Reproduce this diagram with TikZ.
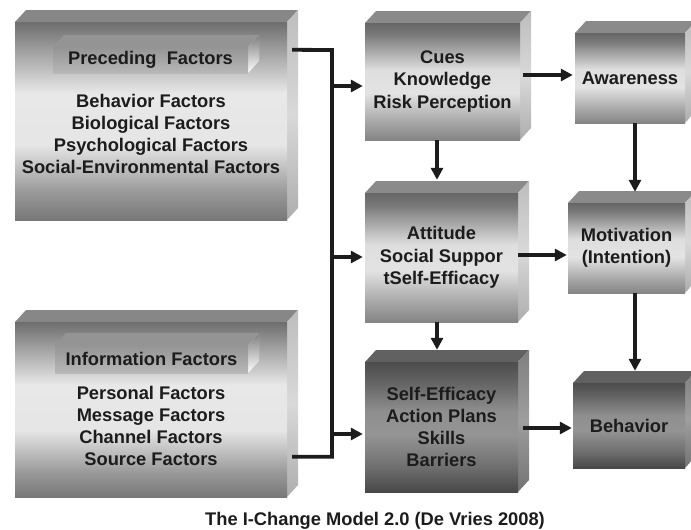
\documentclass[tikz,border=0pt]{standalone}
\usepackage{fontspec}
\setmainfont{Liberation Sans}
\usetikzlibrary{arrows.meta,calc}

\definecolor{ink}{HTML}{1C1C1C}

% front faces: stops run bottom (25bp) to top (75bp)
\pgfdeclareverticalshading{lightface}{100bp}{%
  color(0bp)=(black!48); color(25bp)=(black!48); color(33bp)=(black!34);
  color(45bp)=(black!11); color(55bp)=(black!13); color(70bp)=(black!52);
  color(75bp)=(black!60); color(100bp)=(black!60)}
\pgfdeclareverticalshading{bigface}{100bp}{%
  color(0bp)=(black!53); color(25bp)=(black!53); color(32bp)=(black!40);
  color(44bp)=(black!10); color(57bp)=(black!9); color(68bp)=(black!38);
  color(75bp)=(black!57); color(100bp)=(black!57)}
\pgfdeclareverticalshading{darkface}{100bp}{%
  color(0bp)=(black!72); color(25bp)=(black!72); color(35bp)=(black!56);
  color(47bp)=(black!42); color(56bp)=(black!44); color(68bp)=(black!62);
  color(75bp)=(black!70); color(100bp)=(black!70)}
\pgfdeclareverticalshading{tagface}{100bp}{%
  color(0bp)=(black!28); color(25bp)=(black!28); color(75bp)=(black!42);
  color(100bp)=(black!42)}
% side faces
\pgfdeclareverticalshading{lightside}{100bp}{%
  color(0bp)=(black!32); color(25bp)=(black!32); color(50bp)=(black!15);
  color(75bp)=(black!26); color(100bp)=(black!26)}
\pgfdeclareverticalshading{darkside}{100bp}{%
  color(0bp)=(black!55); color(25bp)=(black!55); color(50bp)=(black!38);
  color(75bp)=(black!50); color(100bp)=(black!50)}

\tikzset{
  light top/.style={fill=black!46},
  light side/.style={shading=lightside},
  light front/.style={shading=lightface},
  big top/.style={fill=black!47},
  big side/.style={shading=lightside},
  big front/.style={shading=bigface},
  dark top/.style={fill=black!62},
  dark side/.style={shading=darkside},
  dark front/.style={shading=darkface},
  tag top/.style={fill=black!42},
  tag side/.style={fill=black!20},
  tag front/.style={shading=tagface},
  wire/.style={draw=ink, line width=3.8pt, line join=miter},
  arr/.style={wire, -{Triangle[length=12pt,width=12pt]}},
}

% depth of the slabs: right and up
\def\ddx{11}
\def\ddy{12}

% \slab{name}{kind}{x1}{y1}{x2}{y2}{text}: a bevelled block, front face (x1,y1)-(x2,y2)
\newcommand\slab[7]{%
  \fill[#2 top] (#3,#4) -- (#3+\ddx,#4-\ddy) -- (#5+\ddx,#4-\ddy) -- (#5,#4) -- cycle;
  \shade[#2 side] (#5,#4) -- (#5+\ddx,#4-\ddy) -- (#5+\ddx,#6-\ddy) -- (#5,#6) -- cycle;
  \node[#2 front, shade, inner sep=0pt,
        minimum width={(#5-#3)*1pt}, minimum height={(#6-#4)*1pt}]
        (#1) at ({(#3+#5)/2},{(#4+#6)/2}) {#7};
}

\begin{document}
\begin{tikzpicture}[x=1pt, y=-1pt,
  font=\bfseries\fontsize{18.3}{22.3}\selectfont, text=ink, align=center]
\useasboundingbox (0,0) rectangle (691,530);

% left column
\slab{pre}{big}{15}{22}{287}{220}{}
\slab{preTag}{tag}{53}{47}{248}{73}{Preceding~ Factors}
\node (preList) at (151,134) {Behavior Factors\\Biological Factors\\Psychological Factors\\Social-Environmental Factors};

\slab{info}{big}{15}{322}{287}{497}{}
\slab{infoTag}{tag}{55}{345}{248}{373}{Information Factors}
\node (infoList) at (151,426) {Personal Factors\\Message Factors\\Channel Factors\\Source Factors};

% middle column
\slab{cues}{light}{365}{23}{520}{140}{Cues\\Knowledge\\Risk Perception}
\slab{att}{light}{365}{193}{518}{322}{Attitude\\Social Suppor\\tSelf-Efficacy}
\slab{se}{dark}{365}{362}{518}{492}{Self-Efficacy\\Action Plans\\Skills\\Barriers}

% right column
\slab{aware}{light}{575}{33}{685}{123}{Awareness}
\slab{motiv}{light}{568}{203}{685}{293}{Motivation\\(Intention)}
\slab{behav}{dark}{573}{383}{685}{468}{Behavior}

% collecting line between the factor blocks
\coordinate (bus) at (332,50);
\draw[wire] ($(pre.north east)+(5,28)$) -- (bus) |- ($(info.north east)+(5,135)$);

\draw[arr] ($(bus |- cues.west)+(0,4.5)$) -- ($(cues.west)+(-2,4.5)$);
\draw[arr] ($(bus |- att.west)+(0,-0.5)$) -- ($(att.west)+(-2,-0.5)$);
\draw[arr] ($(bus |- se.west)+(0,7)$) -- ($(se.west)+(-2,7)$);

% flow between the stages
\draw[arr] ($(cues.east)+(3,-6.5)$) -- ($(aware.west)+(-2,-3)$);
\draw[arr] ($(att.east)+(0,-2.5)$) -- ($(motiv.west)+(-1,7)$);
\draw[arr] ($(se.east)+(5,1)$) -- ($(behav.west)+(-1,2.5)$);

\draw[arr] ($(cues.south)+(-5.5,0)$) -- ($(att.north)+(-4.5,-13)$);
\draw[arr] ($(att.south)+(-4.5,0)$) -- ($(se.north)+(-4.5,-12)$);
\draw[arr] ($(aware.south)+(5,0)$) -- ($(motiv.north)+(8.5,-11)$);
\draw[arr] ($(motiv.south)+(8.5,0)$) -- ($(behav.north)+(6,-12)$);

\node[anchor=base] (caption) at (375,525) {The I-Change Model 2.0 (De Vries 2008)};
\end{tikzpicture}
\end{document}
